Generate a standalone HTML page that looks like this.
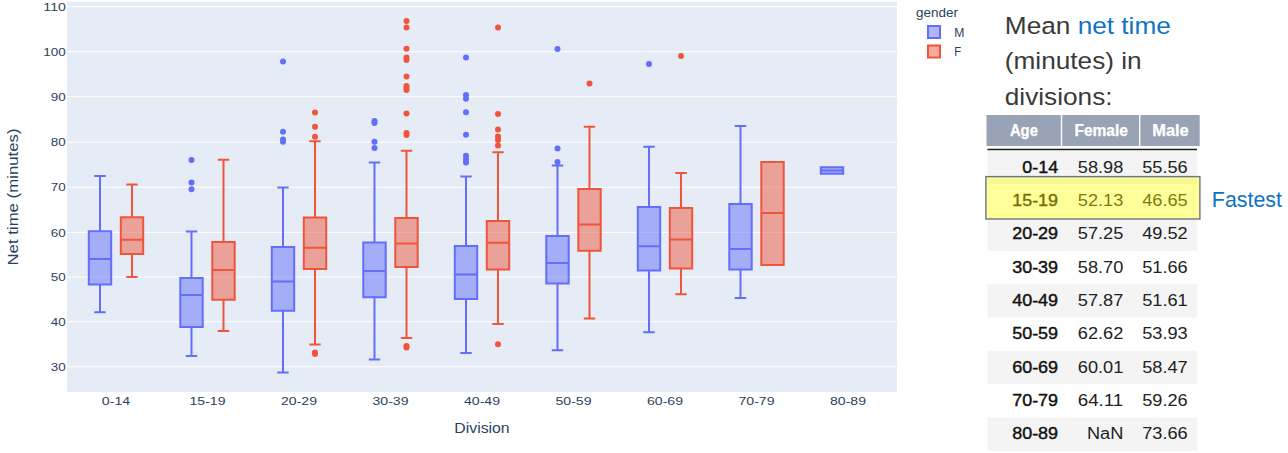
<!DOCTYPE html>
<html><head><meta charset="utf-8"><title>Net time by division</title>
<style>
html,body{margin:0;padding:0;background:#fff;}
svg{display:block;font-family:"Liberation Sans",sans-serif;}
</style></head>
<body>
<svg width="1288" height="453" viewBox="0 0 1288 453">
<rect width="1288" height="453" fill="#fff"/>
<rect x="67" y="1.6" width="830" height="390.4" fill="#E5ECF6"/>
<line x1="67" x2="897" y1="6.45" y2="6.45" stroke="#fff" stroke-width="1"/>
<line x1="67" x2="897" y1="51.70" y2="51.70" stroke="#fff" stroke-width="1"/>
<line x1="67" x2="897" y1="96.70" y2="96.70" stroke="#fff" stroke-width="1"/>
<line x1="67" x2="897" y1="142.10" y2="142.10" stroke="#fff" stroke-width="1"/>
<line x1="67" x2="897" y1="187.20" y2="187.20" stroke="#fff" stroke-width="1"/>
<line x1="67" x2="897" y1="232.40" y2="232.40" stroke="#fff" stroke-width="1"/>
<line x1="67" x2="897" y1="277.10" y2="277.10" stroke="#fff" stroke-width="1"/>
<line x1="67" x2="897" y1="321.70" y2="321.70" stroke="#fff" stroke-width="1"/>
<line x1="67" x2="897" y1="366.80" y2="366.80" stroke="#fff" stroke-width="1"/>
<path d="M88.80,259.00H111.20M88.80,284.40H111.20V231.20H88.80ZM100.00,284.40V312.30M100.00,231.20V176.00M94.30,312.30H105.70M94.30,176.00H105.70" fill="rgba(99,110,250,0.5)" stroke="#636EFA" stroke-width="2"/>
<path d="M120.80,239.70H143.20M120.80,254.00H143.20V217.20H120.80ZM132.00,254.00V277.10M132.00,217.20V184.50M126.30,277.10H137.70M126.30,184.50H137.70" fill="rgba(239,85,59,0.5)" stroke="#EF553B" stroke-width="2"/>
<path d="M180.30,295.10H202.70M180.30,327.00H202.70V278.10H180.30ZM191.50,327.00V355.90M191.50,278.10V231.50M185.80,355.90H197.20M185.80,231.50H197.20" fill="rgba(99,110,250,0.5)" stroke="#636EFA" stroke-width="2"/>
<circle cx="191.50" cy="160.00" r="3" fill="#636EFA"/>
<circle cx="191.50" cy="182.50" r="3" fill="#636EFA"/>
<circle cx="191.50" cy="189.20" r="3" fill="#636EFA"/>
<path d="M212.30,270.00H234.70M212.30,299.70H234.70V242.00H212.30ZM223.50,299.70V331.00M223.50,242.00V159.70M217.80,331.00H229.20M217.80,159.70H229.20" fill="rgba(239,85,59,0.5)" stroke="#EF553B" stroke-width="2"/>
<path d="M271.80,281.60H294.20M271.80,310.70H294.20V246.90H271.80ZM283.00,310.70V372.60M283.00,246.90V187.40M277.30,372.60H288.70M277.30,187.40H288.70" fill="rgba(99,110,250,0.5)" stroke="#636EFA" stroke-width="2"/>
<circle cx="283.00" cy="61.40" r="3" fill="#636EFA"/>
<circle cx="283.00" cy="131.70" r="3" fill="#636EFA"/>
<circle cx="283.00" cy="139.40" r="3" fill="#636EFA"/>
<circle cx="283.00" cy="141.70" r="3" fill="#636EFA"/>
<path d="M303.80,247.70H326.20M303.80,269.10H326.20V217.50H303.80ZM315.00,269.10V344.40M315.00,217.50V141.20M309.30,344.40H320.70M309.30,141.20H320.70" fill="rgba(239,85,59,0.5)" stroke="#EF553B" stroke-width="2"/>
<circle cx="315.00" cy="112.50" r="3" fill="#EF553B"/>
<circle cx="315.00" cy="126.70" r="3" fill="#EF553B"/>
<circle cx="315.00" cy="136.70" r="3" fill="#EF553B"/>
<circle cx="315.00" cy="352.40" r="3" fill="#EF553B"/>
<circle cx="315.00" cy="353.90" r="3" fill="#EF553B"/>
<path d="M363.30,271.10H385.70M363.30,297.30H385.70V242.40H363.30ZM374.50,297.30V359.60M374.50,242.40V162.40M368.80,359.60H380.20M368.80,162.40H380.20" fill="rgba(99,110,250,0.5)" stroke="#636EFA" stroke-width="2"/>
<circle cx="374.50" cy="121.00" r="3" fill="#636EFA"/>
<circle cx="374.50" cy="123.00" r="3" fill="#636EFA"/>
<circle cx="374.50" cy="141.70" r="3" fill="#636EFA"/>
<circle cx="374.50" cy="147.90" r="3" fill="#636EFA"/>
<path d="M395.30,243.40H417.70M395.30,266.90H417.70V218.00H395.30ZM406.50,266.90V337.90M406.50,218.00V150.70M400.80,337.90H412.20M400.80,150.70H412.20" fill="rgba(239,85,59,0.5)" stroke="#EF553B" stroke-width="2"/>
<circle cx="406.50" cy="21.00" r="3" fill="#EF553B"/>
<circle cx="406.50" cy="27.50" r="3" fill="#EF553B"/>
<circle cx="406.50" cy="48.70" r="3" fill="#EF553B"/>
<circle cx="406.50" cy="57.50" r="3" fill="#EF553B"/>
<circle cx="406.50" cy="60.00" r="3" fill="#EF553B"/>
<circle cx="406.50" cy="76.40" r="3" fill="#EF553B"/>
<circle cx="406.50" cy="86.00" r="3" fill="#EF553B"/>
<circle cx="406.50" cy="88.00" r="3" fill="#EF553B"/>
<circle cx="406.50" cy="90.00" r="3" fill="#EF553B"/>
<circle cx="406.50" cy="113.50" r="3" fill="#EF553B"/>
<circle cx="406.50" cy="133.00" r="3" fill="#EF553B"/>
<circle cx="406.50" cy="135.00" r="3" fill="#EF553B"/>
<circle cx="406.50" cy="346.00" r="3" fill="#EF553B"/>
<circle cx="406.50" cy="347.50" r="3" fill="#EF553B"/>
<path d="M454.80,274.40H477.20M454.80,299.10H477.20V245.90H454.80ZM466.00,299.10V352.90M466.00,245.90V176.40M460.30,352.90H471.70M460.30,176.40H471.70" fill="rgba(99,110,250,0.5)" stroke="#636EFA" stroke-width="2"/>
<circle cx="466.00" cy="57.40" r="3" fill="#636EFA"/>
<circle cx="466.00" cy="95.00" r="3" fill="#636EFA"/>
<circle cx="466.00" cy="98.70" r="3" fill="#636EFA"/>
<circle cx="466.00" cy="112.20" r="3" fill="#636EFA"/>
<circle cx="466.00" cy="134.70" r="3" fill="#636EFA"/>
<circle cx="466.00" cy="155.70" r="3" fill="#636EFA"/>
<circle cx="466.00" cy="159.40" r="3" fill="#636EFA"/>
<circle cx="466.00" cy="162.40" r="3" fill="#636EFA"/>
<path d="M486.80,242.70H509.20M486.80,269.40H509.20V221.00H486.80ZM498.00,269.40V323.90M498.00,221.00V152.20M492.30,323.90H503.70M492.30,152.20H503.70" fill="rgba(239,85,59,0.5)" stroke="#EF553B" stroke-width="2"/>
<circle cx="498.00" cy="27.50" r="3" fill="#EF553B"/>
<circle cx="498.00" cy="114.00" r="3" fill="#EF553B"/>
<circle cx="498.00" cy="129.40" r="3" fill="#EF553B"/>
<circle cx="498.00" cy="136.40" r="3" fill="#EF553B"/>
<circle cx="498.00" cy="140.00" r="3" fill="#EF553B"/>
<circle cx="498.00" cy="145.40" r="3" fill="#EF553B"/>
<circle cx="498.00" cy="344.20" r="3" fill="#EF553B"/>
<path d="M546.30,262.90H568.70M546.30,283.60H568.70V235.90H546.30ZM557.50,283.60V350.20M557.50,235.90V165.40M551.80,350.20H563.20M551.80,165.40H563.20" fill="rgba(99,110,250,0.5)" stroke="#636EFA" stroke-width="2"/>
<circle cx="557.50" cy="48.90" r="3" fill="#636EFA"/>
<circle cx="557.50" cy="148.40" r="3" fill="#636EFA"/>
<circle cx="557.50" cy="161.90" r="3" fill="#636EFA"/>
<path d="M578.30,224.40H600.70M578.30,250.70H600.70V188.90H578.30ZM589.50,250.70V318.40M589.50,188.90V126.70M583.80,318.40H595.20M583.80,126.70H595.20" fill="rgba(239,85,59,0.5)" stroke="#EF553B" stroke-width="2"/>
<circle cx="589.50" cy="83.40" r="3" fill="#EF553B"/>
<path d="M637.80,246.20H660.20M637.80,270.60H660.20V207.00H637.80ZM649.00,270.60V332.20M649.00,207.00V146.70M643.30,332.20H654.70M643.30,146.70H654.70" fill="rgba(99,110,250,0.5)" stroke="#636EFA" stroke-width="2"/>
<circle cx="649.00" cy="63.90" r="3" fill="#636EFA"/>
<path d="M669.80,239.40H692.20M669.80,268.60H692.20V208.00H669.80ZM681.00,268.60V294.30M681.00,208.00V173.10M675.30,294.30H686.70M675.30,173.10H686.70" fill="rgba(239,85,59,0.5)" stroke="#EF553B" stroke-width="2"/>
<circle cx="681.00" cy="55.90" r="3" fill="#EF553B"/>
<path d="M729.30,248.90H751.70M729.30,269.40H751.70V204.00H729.30ZM740.50,269.40V298.00M740.50,204.00V126.00M734.80,298.00H746.20M734.80,126.00H746.20" fill="rgba(99,110,250,0.5)" stroke="#636EFA" stroke-width="2"/>
<path d="M761.30,213.00H783.70M761.30,264.90H783.70V161.90H761.30Z" fill="rgba(239,85,59,0.5)" stroke="#EF553B" stroke-width="2"/>
<path d="M820.80,170.50H843.20M820.80,173.70H843.20V167.30H820.80Z" fill="rgba(99,110,250,0.5)" stroke="#636EFA" stroke-width="2"/>
<text x="65.80" y="10.55" font-size="11.3" text-anchor="end" fill="#2a3f5f" textLength="22.44" lengthAdjust="spacingAndGlyphs">110</text>
<text x="65.80" y="55.80" font-size="11.3" text-anchor="end" fill="#2a3f5f" textLength="22.44" lengthAdjust="spacingAndGlyphs">100</text>
<text x="65.80" y="100.80" font-size="11.3" text-anchor="end" fill="#2a3f5f" textLength="14.96" lengthAdjust="spacingAndGlyphs">90</text>
<text x="65.80" y="146.20" font-size="11.3" text-anchor="end" fill="#2a3f5f" textLength="14.96" lengthAdjust="spacingAndGlyphs">80</text>
<text x="65.80" y="191.30" font-size="11.3" text-anchor="end" fill="#2a3f5f" textLength="14.96" lengthAdjust="spacingAndGlyphs">70</text>
<text x="65.80" y="236.50" font-size="11.3" text-anchor="end" fill="#2a3f5f" textLength="14.96" lengthAdjust="spacingAndGlyphs">60</text>
<text x="65.80" y="281.20" font-size="11.3" text-anchor="end" fill="#2a3f5f" textLength="14.96" lengthAdjust="spacingAndGlyphs">50</text>
<text x="65.80" y="325.80" font-size="11.3" text-anchor="end" fill="#2a3f5f" textLength="14.96" lengthAdjust="spacingAndGlyphs">40</text>
<text x="65.80" y="370.90" font-size="11.3" text-anchor="end" fill="#2a3f5f" textLength="14.96" lengthAdjust="spacingAndGlyphs">30</text>
<text x="116.00" y="405.00" font-size="11.3" text-anchor="middle" fill="#2a3f5f" textLength="28.34" lengthAdjust="spacingAndGlyphs">0-14</text>
<text x="207.50" y="405.00" font-size="11.3" text-anchor="middle" fill="#2a3f5f" textLength="35.98" lengthAdjust="spacingAndGlyphs">15-19</text>
<text x="299.00" y="405.00" font-size="11.3" text-anchor="middle" fill="#2a3f5f" textLength="35.98" lengthAdjust="spacingAndGlyphs">20-29</text>
<text x="390.50" y="405.00" font-size="11.3" text-anchor="middle" fill="#2a3f5f" textLength="35.98" lengthAdjust="spacingAndGlyphs">30-39</text>
<text x="482.00" y="405.00" font-size="11.3" text-anchor="middle" fill="#2a3f5f" textLength="35.98" lengthAdjust="spacingAndGlyphs">40-49</text>
<text x="573.50" y="405.00" font-size="11.3" text-anchor="middle" fill="#2a3f5f" textLength="35.98" lengthAdjust="spacingAndGlyphs">50-59</text>
<text x="665.00" y="405.00" font-size="11.3" text-anchor="middle" fill="#2a3f5f" textLength="35.98" lengthAdjust="spacingAndGlyphs">60-69</text>
<text x="756.50" y="405.00" font-size="11.3" text-anchor="middle" fill="#2a3f5f" textLength="35.98" lengthAdjust="spacingAndGlyphs">70-79</text>
<text x="848.00" y="405.00" font-size="11.3" text-anchor="middle" fill="#2a3f5f" textLength="35.98" lengthAdjust="spacingAndGlyphs">80-89</text>
<text x="482.00" y="432.80" font-size="14" text-anchor="middle" fill="#2a3f5f" textLength="55.24" lengthAdjust="spacingAndGlyphs">Division</text>
<text x="0.00" y="0.00" font-size="14" text-anchor="middle" fill="#2a3f5f" textLength="137.05" lengthAdjust="spacingAndGlyphs" transform="translate(17.6,197) rotate(-90)">Net time (minutes)</text>
<text x="916.00" y="16.80" font-size="12" text-anchor="start" fill="#2a3f5f" textLength="41.98" lengthAdjust="spacingAndGlyphs">gender</text>
<rect x="928" y="26" width="12" height="12" fill="rgba(99,110,250,0.5)" stroke="#636EFA" stroke-width="2"/>
<rect x="928" y="45.5" width="12" height="12" fill="rgba(239,85,59,0.5)" stroke="#EF553B" stroke-width="2"/>
<text x="954.20" y="36.50" font-size="12" text-anchor="start" fill="#2a3f5f" textLength="10.12" lengthAdjust="spacingAndGlyphs">M</text>
<text x="954.20" y="55.50" font-size="12" text-anchor="start" fill="#2a3f5f" textLength="6.90" lengthAdjust="spacingAndGlyphs">F</text>
<g transform="translate(1004.8,33.50) scale(1.07,1)"><text font-size="24.5" fill="#3a3a3a">Mean <tspan fill="#0f73c4">net time</tspan></text></g>
<g transform="translate(1004.8,69.40) scale(1.07,1)"><text font-size="24.5" fill="#3a3a3a">(minutes) in</text></g>
<g transform="translate(1004.8,105.20) scale(1.07,1)"><text font-size="24.5" fill="#3a3a3a">divisions:</text></g>
<rect x="986.5" y="115" width="74.3" height="31" fill="#98a4b5"/>
<rect x="1062.2" y="115" width="76.8" height="31" fill="#98a4b5"/>
<rect x="1140.4" y="115" width="59.3" height="31" fill="#98a4b5"/>
<text x="1023.90" y="135.8" font-size="16" font-weight="bold" text-anchor="middle" fill="#fff" stroke="#fff" stroke-width="0.25" textLength="28.00" lengthAdjust="spacingAndGlyphs">Age</text>
<text x="1101.20" y="135.8" font-size="16" font-weight="bold" text-anchor="middle" fill="#fff" stroke="#fff" stroke-width="0.25" textLength="53.60" lengthAdjust="spacingAndGlyphs">Female</text>
<text x="1170.50" y="135.8" font-size="16" font-weight="bold" text-anchor="middle" fill="#fff" stroke="#fff" stroke-width="0.25" textLength="36.40" lengthAdjust="spacingAndGlyphs">Male</text>
<rect x="987.4" y="148.75" width="209.6" height="1.5" fill="#1a1a1a"/>
<rect x="987.4" y="150.90" width="209.8" height="33.33" fill="#f4f4f4"/>
<rect x="987.4" y="217.56" width="209.8" height="33.33" fill="#f4f4f4"/>
<rect x="987.4" y="284.22" width="209.8" height="33.33" fill="#f4f4f4"/>
<rect x="987.4" y="350.88" width="209.8" height="33.33" fill="#f4f4f4"/>
<rect x="987.4" y="417.54" width="209.8" height="33.33" fill="#f4f4f4"/>
<text x="1058.1" y="172.75" font-size="16" text-anchor="end" fill="#111" stroke="#111" stroke-width="0.4" stroke-linejoin="round" textLength="35.80" lengthAdjust="spacingAndGlyphs">0-14</text>
<text x="1123.3" y="172.75" font-size="16" text-anchor="end" fill="#222" textLength="45.52" lengthAdjust="spacingAndGlyphs">58.98</text>
<text x="1187.7" y="172.75" font-size="16" text-anchor="end" fill="#222" textLength="45.52" lengthAdjust="spacingAndGlyphs">55.56</text>
<text x="1058.1" y="206.08" font-size="16" text-anchor="end" fill="#111" stroke="#111" stroke-width="0.4" stroke-linejoin="round" textLength="45.92" lengthAdjust="spacingAndGlyphs">15-19</text>
<text x="1123.3" y="206.08" font-size="16" text-anchor="end" fill="#222" textLength="45.52" lengthAdjust="spacingAndGlyphs">52.13</text>
<text x="1187.7" y="206.08" font-size="16" text-anchor="end" fill="#222" textLength="45.52" lengthAdjust="spacingAndGlyphs">46.65</text>
<text x="1058.1" y="239.41" font-size="16" text-anchor="end" fill="#111" stroke="#111" stroke-width="0.4" stroke-linejoin="round" textLength="45.92" lengthAdjust="spacingAndGlyphs">20-29</text>
<text x="1123.3" y="239.41" font-size="16" text-anchor="end" fill="#222" textLength="45.52" lengthAdjust="spacingAndGlyphs">57.25</text>
<text x="1187.7" y="239.41" font-size="16" text-anchor="end" fill="#222" textLength="45.52" lengthAdjust="spacingAndGlyphs">49.52</text>
<text x="1058.1" y="272.74" font-size="16" text-anchor="end" fill="#111" stroke="#111" stroke-width="0.4" stroke-linejoin="round" textLength="45.92" lengthAdjust="spacingAndGlyphs">30-39</text>
<text x="1123.3" y="272.74" font-size="16" text-anchor="end" fill="#222" textLength="45.52" lengthAdjust="spacingAndGlyphs">58.70</text>
<text x="1187.7" y="272.74" font-size="16" text-anchor="end" fill="#222" textLength="45.52" lengthAdjust="spacingAndGlyphs">51.66</text>
<text x="1058.1" y="306.07" font-size="16" text-anchor="end" fill="#111" stroke="#111" stroke-width="0.4" stroke-linejoin="round" textLength="45.92" lengthAdjust="spacingAndGlyphs">40-49</text>
<text x="1123.3" y="306.07" font-size="16" text-anchor="end" fill="#222" textLength="45.52" lengthAdjust="spacingAndGlyphs">57.87</text>
<text x="1187.7" y="306.07" font-size="16" text-anchor="end" fill="#222" textLength="45.52" lengthAdjust="spacingAndGlyphs">51.61</text>
<text x="1058.1" y="339.40" font-size="16" text-anchor="end" fill="#111" stroke="#111" stroke-width="0.4" stroke-linejoin="round" textLength="45.92" lengthAdjust="spacingAndGlyphs">50-59</text>
<text x="1123.3" y="339.40" font-size="16" text-anchor="end" fill="#222" textLength="45.52" lengthAdjust="spacingAndGlyphs">62.62</text>
<text x="1187.7" y="339.40" font-size="16" text-anchor="end" fill="#222" textLength="45.52" lengthAdjust="spacingAndGlyphs">53.93</text>
<text x="1058.1" y="372.73" font-size="16" text-anchor="end" fill="#111" stroke="#111" stroke-width="0.4" stroke-linejoin="round" textLength="45.92" lengthAdjust="spacingAndGlyphs">60-69</text>
<text x="1123.3" y="372.73" font-size="16" text-anchor="end" fill="#222" textLength="45.52" lengthAdjust="spacingAndGlyphs">60.01</text>
<text x="1187.7" y="372.73" font-size="16" text-anchor="end" fill="#222" textLength="45.52" lengthAdjust="spacingAndGlyphs">58.47</text>
<text x="1058.1" y="406.06" font-size="16" text-anchor="end" fill="#111" stroke="#111" stroke-width="0.4" stroke-linejoin="round" textLength="45.92" lengthAdjust="spacingAndGlyphs">70-79</text>
<text x="1123.3" y="406.06" font-size="16" text-anchor="end" fill="#222" textLength="45.52" lengthAdjust="spacingAndGlyphs">64.11</text>
<text x="1187.7" y="406.06" font-size="16" text-anchor="end" fill="#222" textLength="45.52" lengthAdjust="spacingAndGlyphs">59.26</text>
<text x="1058.1" y="439.39" font-size="16" text-anchor="end" fill="#111" stroke="#111" stroke-width="0.4" stroke-linejoin="round" textLength="45.92" lengthAdjust="spacingAndGlyphs">80-89</text>
<text x="1123.3" y="439.39" font-size="16" text-anchor="end" fill="#222" textLength="36.38" lengthAdjust="spacingAndGlyphs">NaN</text>
<text x="1187.7" y="439.39" font-size="16" text-anchor="end" fill="#222" textLength="45.52" lengthAdjust="spacingAndGlyphs">73.66</text>
<rect x="985.9" y="176.6" width="214" height="42.4" fill="rgba(255,255,0,0.4)" stroke="#6b7686" stroke-width="1.4"/>
<text x="1211.8" y="207" font-size="21.8" fill="#0f73c4" textLength="70.2" lengthAdjust="spacingAndGlyphs">Fastest</text>
</svg>
</body></html>
